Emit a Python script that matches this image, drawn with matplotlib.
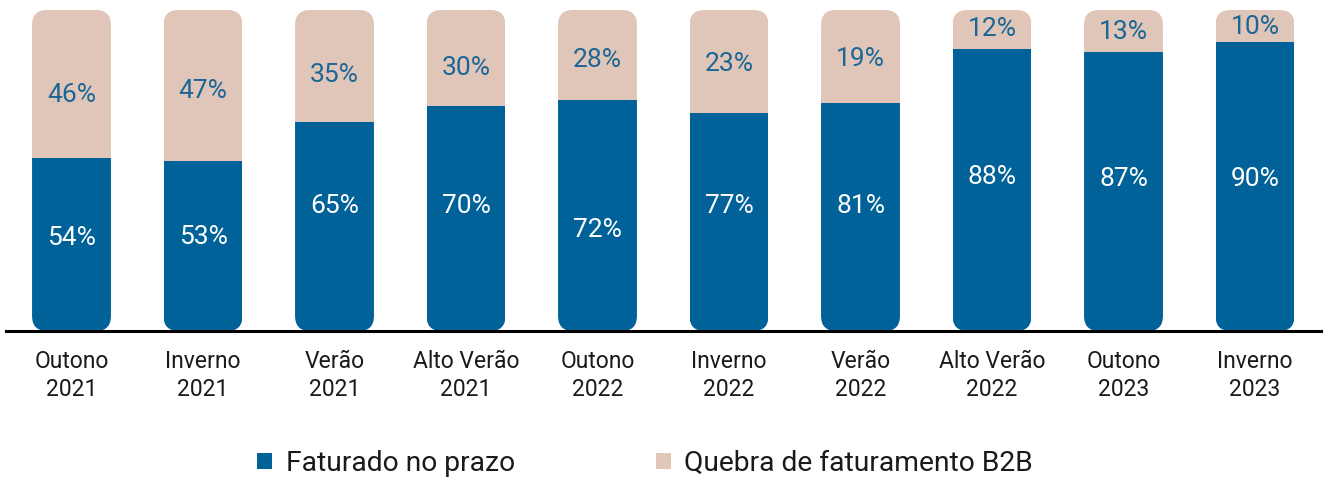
import matplotlib
matplotlib.use("Agg")
import matplotlib.pyplot as plt
from matplotlib.patches import FancyBboxPatch, Patch

categories = ["Outono\n2021", "Inverno\n2021", "Verão\n2021", "Alto Verão\n2021",
              "Outono\n2022", "Inverno\n2022", "Verão\n2022", "Alto Verão\n2022",
              "Outono\n2023", "Inverno\n2023"]
# printed percentages
faturado_pct = [54, 53, 65, 70, 72, 77, 81, 88, 87, 90]
quebra_pct = [46, 47, 35, 30, 28, 23, 19, 12, 13, 10]
# segment heights as drawn in the reference
faturado_bar = [54, 53, 65, 70, 72, 68, 71, 88, 87, 90]
quebra_bar = [46, 47, 35, 30, 28, 32, 29, 12, 13, 10]
series_names = ["Faturado no prazo", "Quebra de faturamento B2B"]

# label anchor heights (layout, data units)
blue_label_y = [29.0, 29.3, 38.9, 38.9, 31.5, 38.9, 38.9, 48.0, 47.4, 47.4]
beige_label_y = [73.5, 74.8, 79.8, 81.9, 84.4, 83.2, 84.7, 94.1, 93.1, 94.7]

BLUE = "#006298"
BEIGE = "#DFC6B8"
plt.rcParams["font.family"] = ["Roboto", "DejaVu Sans"]

W, H = 1324, 479
fig = plt.figure(figsize=(W / 100, H / 100), dpi=100)
ax_w_px, ax_h_px = 1315, 321
ax = fig.add_axes([5.75 / W, (H - 331) / H, ax_w_px / W, ax_h_px / H])
ax.set_xlim(-0.5, 9.5)
ax.set_ylim(0, 100)

x = list(range(len(categories)))
width = 0.6
b1 = ax.bar(x, faturado_bar, width=width, color=BLUE, linewidth=0)
b2 = ax.bar(x, quebra_bar, bottom=faturado_bar, width=width, color=BEIGE, linewidth=0)

px_x = ax_w_px / 10.0
px_y = ax_h_px / 100.0
aspect = px_x / px_y
r = 15 / px_x
for i in x:
    total = faturado_bar[i] + quebra_bar[i]
    clip = FancyBboxPatch((i - width / 2, 0), width, total,
                          boxstyle=f"round,pad=0,rounding_size={r}",
                          mutation_aspect=aspect, transform=ax.transData,
                          facecolor="none", edgecolor="none")
    ax.add_patch(clip)
    b1[i].set_clip_path(clip)
    b2[i].set_clip_path(clip)
    ax.text(i, blue_label_y[i], f"{faturado_pct[i]}%", ha="center", va="center",
            color="white", fontsize=19)
    ax.text(i, beige_label_y[i], f"{quebra_pct[i]}%", ha="center",
            va="center", color="#1B6696", fontsize=19)

for s in ["top", "right", "left"]:
    ax.spines[s].set_visible(False)
ax.spines["bottom"].set_linewidth(2.2)
ax.spines["bottom"].set_color("black")
ax.set_yticks([])
ax.set_xticks(x)
ax.set_xticklabels(categories, fontsize=16.5, color="#1a1a1a", linespacing=1.24)
ax.tick_params(axis="x", length=0, pad=14)

handles = [Patch(facecolor=BLUE, edgecolor="none"), Patch(facecolor=BEIGE, edgecolor="none")]
fig.legend(handles, series_names, loc="center", bbox_to_anchor=(645 / W, 1 - 463.5 / H),
           ncol=2, frameon=False, fontsize=20.3, handlelength=0.54, handleheight=0.5,
           handletextpad=0.47, columnspacing=5.0, labelcolor="#1a1a1a",
           borderpad=0, borderaxespad=0)

fig.savefig("out.png", dpi=100)
